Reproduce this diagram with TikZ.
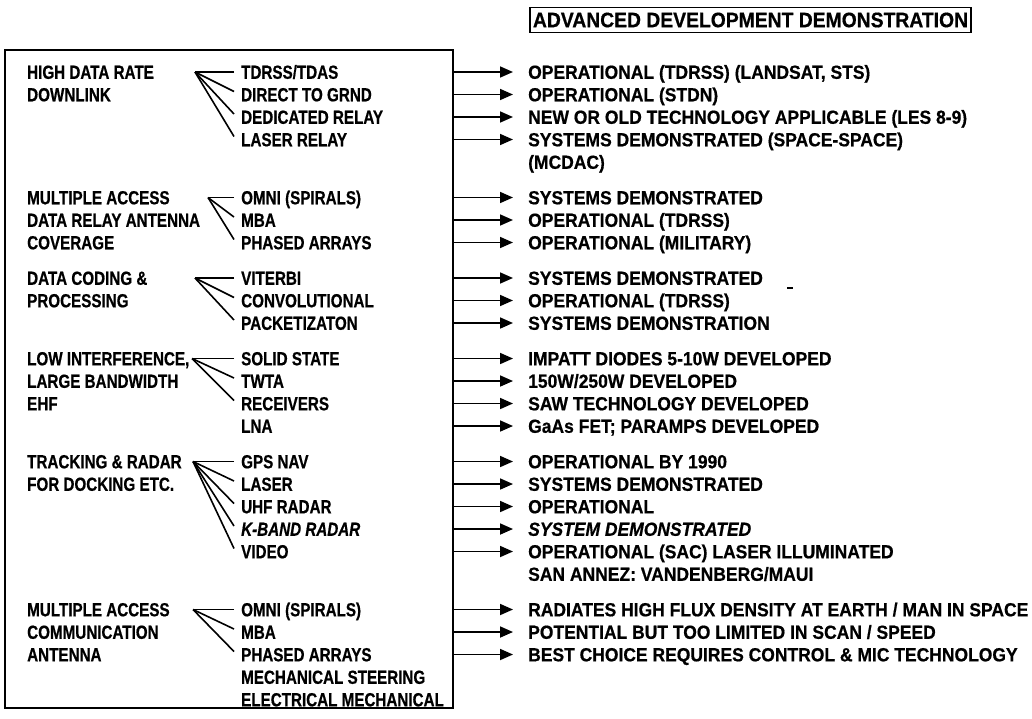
\documentclass[tikz,border=0pt]{standalone}
\usepackage{fontspec}
\setmainfont{Liberation Sans}
\newfontfamily\narrowface{Liberation Sans}[FakeStretch=0.8,FakeBold=0.6]
\newfontfamily\wideface{Liberation Sans}[FakeStretch=0.92,FakeBold=0.6]
\newfontfamily\headface{Liberation Sans}[FakeStretch=0.92,FakeBold=0.6]
\usetikzlibrary{arrows.meta}
\newcommand\topicfont{\narrowface\fontsize{19}{21}\selectfont\bfseries}
\newcommand\statusfont{\wideface\fontsize{19}{21}\selectfont\bfseries}
\begin{document}
\begin{tikzpicture}[x=1pt,y=-1pt,
  txt/.style={anchor=west,inner sep=0pt,text height=13.6pt,text depth=0pt,font=\topicfont},
  item/.style={anchor=west,inner xsep=7pt,inner ysep=0pt,text height=13.6pt,text depth=0pt,font=\topicfont},
  itemsl/.style={item,font=\topicfont\itshape},
  stat/.style={anchor=west,inner sep=0pt,text height=13.6pt,text depth=0pt,font=\statusfont},
  statsl/.style={stat,font=\statusfont\itshape},
  fan/.style={line width=1.6pt},
  link/.style={line width=1.7pt,-{Triangle[length=13pt,width=11pt]}},
  frame/.style={draw,line width=1.9pt,minimum width=448pt,minimum height=658pt,inner sep=0pt}]
\useasboundingbox (0,0) rectangle (1032,718);

% header and outer frame
\node[draw,line width=1.4pt,inner xsep=3pt,inner ysep=5pt,font=\headface\fontsize{21}{24}\selectfont\bfseries] (hdr) at (750.5,20) {ADVANCED DEVELOPMENT DEMONSTRATION};
\node[frame] (frame) at (229,379) {};

% topic column
\node[txt] (L0) at (27,72) {HIGH DATA RATE};
\node[txt] (L1) at (27,94.5) {DOWNLINK};
\node[txt] (L5) at (27,197.5) {MULTIPLE ACCESS};
\node[txt] (L6) at (27,220) {DATA RELAY ANTENNA};
\node[txt] (L7) at (27,242.5) {COVERAGE};
\node[txt] (L8) at (27,278) {DATA CODING \&};
\node[txt] (L9) at (27,300.5) {PROCESSING};
\node[txt] (L11) at (27,358.5) {LOW INTERFERENCE,};
\node[txt] (L12) at (27,381) {LARGE BANDWIDTH};
\node[txt] (L13) at (27,403.5) {EHF};
\node[txt] (L15) at (27,461.5) {TRACKING \& RADAR};
\node[txt] (L16) at (27,484) {FOR DOCKING ETC.};
\node[txt] (L21) at (27,609.5) {MULTIPLE ACCESS};
\node[txt] (L22) at (27,632) {COMMUNICATION};
\node[txt] (L23) at (27,654.5) {ANTENNA};

% technology options
\node[item] (I0) at (234,72) {TDRSS/TDAS};
\node[item] (I1) at (234,94.5) {DIRECT TO GRND};
\node[item] (I2) at (234,117) {DEDICATED RELAY};
\node[item] (I3) at (234,139.5) {LASER RELAY};
\node[item] (I5) at (234,197.5) {OMNI (SPIRALS)};
\node[item] (I6) at (234,220) {MBA};
\node[item] (I7) at (234,242.5) {PHASED ARRAYS};
\node[item] (I8) at (234,278) {VITERBI};
\node[item] (I9) at (234,300.5) {CONVOLUTIONAL};
\node[item] (I10) at (234,323) {PACKETIZATON};
\node[item] (I11) at (234,358.5) {SOLID STATE};
\node[item] (I12) at (234,381) {TWTA};
\node[item] (I13) at (234,403.5) {RECEIVERS};
\node[item] (I14) at (234,426) {LNA};
\node[item] (I15) at (234,461.5) {GPS NAV};
\node[item] (I16) at (234,484) {LASER};
\node[item] (I17) at (234,506.5) {UHF RADAR};
\node[itemsl] (I18) at (234,529) {K-BAND RADAR};
\node[item] (I19) at (234,551.5) {VIDEO};
\node[item] (I21) at (234,609.5) {OMNI (SPIRALS)};
\node[item] (I22) at (234,632) {MBA};
\node[item] (I23) at (234,654.5) {PHASED ARRAYS};
\node[item] (I24) at (234,677) {MECHANICAL STEERING};
\node[item] (I25) at (234,699.5) {ELECTRICAL MECHANICAL};

% fan apexes
\coordinate (A1) at (195,72);
\coordinate (A2) at (208,197.5);
\coordinate (A3) at (195,278);
\coordinate (A4) at (192,358.5);
\coordinate (A5) at (193,461.5);
\coordinate (A6) at (193,609.5);

\draw[fan] (I0.west) -- (A1);
\foreach \k in {1,2,3} \draw[fan] ([yshift=3pt]I\k.west) -- (A1);
\draw[fan] (I5.west) -- (A2);
\foreach \k in {6,7} \draw[fan] ([yshift=3pt]I\k.west) -- (A2);
\draw[fan] (I8.west) -- (A3);
\foreach \k in {9,10} \draw[fan] ([yshift=3pt]I\k.west) -- (A3);
\draw[fan] (I11.west) -- (A4);
\foreach \k in {12,13} \draw[fan] ([yshift=3pt]I\k.west) -- (A4);
\draw[fan] (I15.west) -- (A5);
\foreach \k in {16,17,18,19} \draw[fan] ([yshift=3pt]I\k.west) -- (A5);
\draw[fan] (I21.west) -- (A6);
\foreach \k in {22,23} \draw[fan] ([yshift=3pt]I\k.west) -- (A6);

% status column
\node[stat] (R0) at (528,72) {OPERATIONAL (TDRSS) (LANDSAT, STS)};
\node[stat] (R1) at (528,94.5) {OPERATIONAL (STDN)};
\node[stat] (R2) at (528,117) {NEW OR OLD TECHNOLOGY APPLICABLE (LES 8-9)};
\node[stat] (R3) at (528,139.5) {SYSTEMS DEMONSTRATED (SPACE-SPACE)};
\node[stat] (R4) at (528,162) {(MCDAC)};
\node[stat] (R5) at (528,197.5) {SYSTEMS DEMONSTRATED};
\node[stat] (R6) at (528,220) {OPERATIONAL (TDRSS)};
\node[stat] (R7) at (528,242.5) {OPERATIONAL (MILITARY)};
\node[stat] (R8) at (528,278) {SYSTEMS DEMONSTRATED};
\node[stat] (R9) at (528,300.5) {OPERATIONAL (TDRSS)};
\node[stat] (R10) at (528,323) {SYSTEMS DEMONSTRATION};
\node[stat] (R11) at (528,358.5) {IMPATT DIODES 5-10W DEVELOPED};
\node[stat] (R12) at (528,381) {150W/250W DEVELOPED};
\node[stat] (R13) at (528,403.5) {SAW TECHNOLOGY DEVELOPED};
\node[stat] (R14) at (528,426) {GaAs FET; PARAMPS DEVELOPED};
\node[stat] (R15) at (528,461.5) {OPERATIONAL BY 1990};
\node[stat] (R16) at (528,484) {SYSTEMS DEMONSTRATED};
\node[stat] (R17) at (528,506.5) {OPERATIONAL};
\node[statsl] (R18) at (528,529) {SYSTEM DEMONSTRATED};
\node[stat] (R19) at (528,551.5) {OPERATIONAL (SAC) LASER ILLUMINATED};
\node[stat] (R20) at (528,574) {SAN ANNEZ: VANDENBERG/MAUI};
\node[stat] (R21) at (528,609.5) {RADIATES HIGH FLUX DENSITY AT EARTH / MAN IN SPACE};
\node[stat] (R22) at (528,632) {POTENTIAL BUT TOO LIMITED IN SCAN / SPEED};
\node[stat] (R23) at (528,654.5) {BEST CHOICE REQUIRES CONTROL \& MIC TECHNOLOGY};

\foreach \k in {0,1,2,3,5,6,7,8,9,10,11,12,13,14,15,16,17,18,19,21,22,23}
  \draw[link] (R\k.west -| frame.east) -- ([xshift=-15pt]R\k.west);

% small mark in the open area
\draw[line width=1.2pt] (787,288) -- (793,288);
\end{tikzpicture}
\end{document}
